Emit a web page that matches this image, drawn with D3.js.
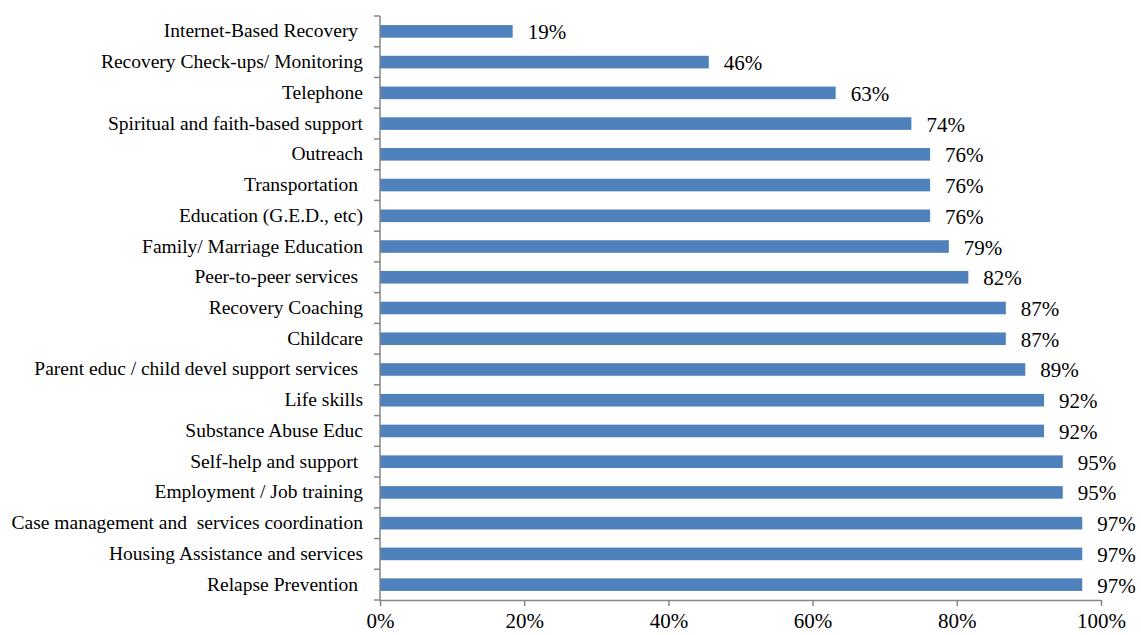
<!DOCTYPE html>
<html>
<head>
<meta charset="utf-8">
<script src="https://cdn.jsdelivr.net/npm/d3@7"></script>
<style>
body { margin: 0; background: #fff; }
text { font-family: "Liberation Serif", "Times New Roman", serif; white-space: pre; }
</style>
</head>
<body>
<svg width="1141" height="635"></svg>
<script>
// services, top to bottom
var services = [
  "Internet-Based Recovery ",
  "Recovery Check-ups/ Monitoring",
  "Telephone",
  "Spiritual and faith-based support",
  "Outreach",
  "Transportation ",
  "Education (G.E.D., etc)",
  "Family/ Marriage Education",
  "Peer-to-peer services ",
  "Recovery Coaching",
  "Childcare",
  "Parent educ / child devel support services ",
  "Life skills",
  "Substance Abuse Educ",
  "Self-help and support ",
  "Employment / Job training",
  "Case management and  services coordination",
  "Housing Assistance and services",
  "Relapse Prevention "
];
var shares = [18.4, 45.6, 63.2, 73.7, 76.3, 76.3, 76.3, 78.9, 81.6, 86.8, 86.8, 89.5, 92.1, 92.1, 94.7, 94.7, 97.4, 97.4, 97.4];
var valueLabels = ["19%", "46%", "63%", "74%", "76%", "76%", "76%", "79%", "82%", "87%", "87%", "89%", "92%", "92%", "95%", "95%", "97%", "97%", "97%"];
var xTicks = [0, 20, 40, 60, 80, 100];

var svg = d3.select("svg");
var plotLeft = 380, plotRight = 1101, plotTop = 16, plotBottom = 600;
var axisColor = "#868686";

var x = d3.scaleLinear().domain([0, 100]).range([plotLeft, plotRight]);
var y = d3.scaleBand().domain(services).range([plotTop, plotBottom]).paddingInner(0.59).paddingOuter(0.295);

// bars
svg.selectAll("rect.bar").data(services).enter().append("rect")
  .attr("class", "bar")
  .attr("x", x(0))
  .attr("y", function(d) { return y(d); })
  .attr("width", function(d, i) { return x(shares[i]) - x(0); })
  .attr("height", y.bandwidth())
  .attr("fill", "#4F81BD");

// value labels
svg.selectAll("text.val").data(services).enter().append("text")
  .attr("class", "val")
  .attr("x", function(d, i) { return x(shares[i]) + 15; })
  .attr("y", function(d) { return y(d) + y.bandwidth() / 2 + 8; })
  .attr("font-size", 21)
  .attr("fill", "#000")
  .text(function(d, i) { return valueLabels[i]; });

// category labels
svg.selectAll("text.cat").data(services).enter().append("text")
  .attr("class", "cat")
  .attr("x", plotLeft - 17)
  .attr("y", function(d) { return y(d) + y.bandwidth() / 2 + 6; })
  .attr("text-anchor", "end")
  .attr("font-size", 19.5)
  .attr("fill", "#000")
  .text(function(d) { return d; });

// vertical axis with ticks at band edges
var g = svg.append("g");
g.append("line").attr("x1", plotLeft).attr("x2", plotLeft).attr("y1", plotTop).attr("y2", plotBottom)
  .attr("stroke", axisColor).attr("stroke-width", 1.5);
d3.range(services.length + 1).forEach(function(i) {
  var yy = plotTop + i * y.step();
  g.append("line").attr("x1", plotLeft - 6).attr("x2", plotLeft).attr("y1", yy).attr("y2", yy)
    .attr("stroke", axisColor).attr("stroke-width", 1.5);
});

// horizontal axis
var xAxis = d3.axisBottom(x).tickValues(xTicks).tickSize(6).tickSizeOuter(0)
  .tickFormat(function(d) { return d + "%"; });
var gx = svg.append("g").attr("transform", "translate(0," + plotBottom + ")").call(xAxis);
gx.select(".domain").attr("stroke", axisColor).attr("stroke-width", 1.5);
gx.selectAll(".tick line").attr("stroke", axisColor).attr("stroke-width", 1.5);
gx.selectAll(".tick text")
  .attr("font-family", "Liberation Serif, Times New Roman, serif")
  .attr("font-size", 21).attr("fill", "#000").attr("dy", "0.95em").attr("y", 8);
</script>
</body>
</html>
